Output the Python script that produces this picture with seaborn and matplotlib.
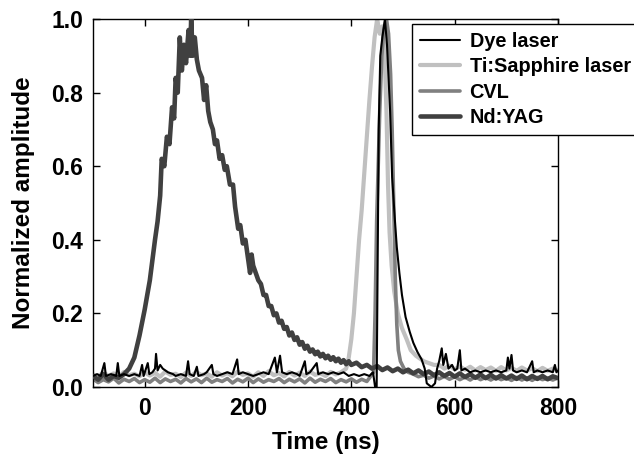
import matplotlib
matplotlib.use("Agg")
import matplotlib.pyplot as plt
import seaborn as sns

# traces (time in ns, normalized amplitude)
dye_t = [-100, -92, -85, -78, -75, -65, -55, -52, -49, -40, -30, -20, -10, -5, -2, 6, 9, 15, 20, 22,
         25, 30, 35, 40, 45, 55, 60, 70, 80, 84, 87, 95, 101, 104, 115, 120, 130, 133, 140, 150,
         160, 170, 179, 182, 190, 200, 210, 220, 230, 240, 252, 256, 262, 266, 275, 285, 295, 300, 310, 313,
         320, 333, 336, 345, 355, 365, 375, 385, 395, 405, 415, 425, 435, 442, 446, 449, 451, 453, 456, 460,
         465, 469, 475, 479, 484, 488, 493, 498, 505, 513, 520, 528, 536, 542, 546, 555, 562, 566, 570, 575,
         578, 583, 588, 595, 600, 605, 610, 613, 620, 630, 640, 650, 660, 670, 680, 690, 700, 703, 706, 710,
         713, 720, 730, 740, 750, 753, 760, 770, 780, 790, 794, 797, 800]
dye_y = [0.03, 0.035, 0.03, 0.065, 0.03, 0.035, 0.03, 0.065, 0.03, 0.035, 0.03, 0.035, 0.03, 0.06, 0.03, 0.065, 0.035, 0.04, 0.05, 0.09,
         0.045, 0.06, 0.05, 0.045, 0.04, 0.035, 0.03, 0.035, 0.03, 0.07, 0.035, 0.03, 0.055, 0.03, 0.035, 0.04, 0.06, 0.035, 0.03, 0.035,
         0.04, 0.035, 0.075, 0.035, 0.04, 0.035, 0.03, 0.035, 0.04, 0.035, 0.08, 0.04, 0.085, 0.04, 0.035, 0.04, 0.035, 0.03, 0.07, 0.035,
         0.04, 0.065, 0.035, 0.04, 0.035, 0.04, 0.035, 0.04, 0.03, 0.035, 0.03, 0.035, 0.03, 0.04, 0.0, 0.0, 0.35, 0.7, 0.9, 0.95,
         1.0, 0.93, 0.75, 0.57, 0.46, 0.38, 0.31, 0.25, 0.19, 0.15, 0.12, 0.095, 0.075, 0.05, 0.01, 0.0, 0.01, 0.05, 0.07, 0.105,
         0.06, 0.09, 0.05, 0.06, 0.045, 0.05, 0.10, 0.045, 0.05, 0.04, 0.045, 0.04, 0.045, 0.04, 0.045, 0.04, 0.045, 0.08, 0.05, 0.087,
         0.045, 0.04, 0.045, 0.04, 0.07, 0.04, 0.045, 0.04, 0.045, 0.04, 0.06, 0.04, 0.045]

ti_t = list(range(-100, 390, 10)) + [390, 395, 400, 405, 410, 415, 420, 425, 430, 435, 440, 445, 450, 455, 460,
        464, 468, 471, 474, 478, 483, 490, 498, 507, 515, 525, 540, 560] + list(range(570, 810, 10))
ti_y = [0.034, 0.028, 0.04, 0.03, 0.037, 0.027, 0.041, 0.032, 0.036, 0.029,
        0.04, 0.031, 0.038, 0.028, 0.042, 0.033, 0.036, 0.027, 0.039, 0.03,
        0.041, 0.032, 0.037, 0.028, 0.04, 0.031, 0.038, 0.029, 0.042, 0.033,
        0.037, 0.028, 0.04, 0.03, 0.043, 0.032, 0.038, 0.029, 0.041, 0.031,
        0.039, 0.03, 0.042, 0.033, 0.037, 0.03, 0.041, 0.034, 0.04,
        0.05, 0.08, 0.13, 0.2, 0.3, 0.4, 0.48, 0.58, 0.68, 0.78, 0.87, 0.95, 1.0, 0.96, 0.98,
        0.92, 0.75, 0.55, 0.42, 0.33, 0.26, 0.2, 0.16, 0.13, 0.10, 0.085, 0.07, 0.06,
        0.06, 0.05, 0.058, 0.048, 0.056, 0.047, 0.055, 0.045, 0.054, 0.046, 0.053, 0.044,
        0.054, 0.045, 0.052, 0.044, 0.053, 0.045, 0.051, 0.043, 0.052, 0.044, 0.05, 0.045]

cvl_t = list(range(-100, 440, 10)) + [443, 446, 449, 452, 455, 459, 463, 468, 472, 476, 479, 482,
         485, 488, 491, 495, 502, 510] + list(range(520, 810, 10))
cvl_y = [0.022, 0.012, 0.02, 0.014, 0.024, 0.011, 0.021, 0.015, 0.023, 0.012,
         0.02, 0.013, 0.024, 0.012, 0.022, 0.015, 0.021, 0.011, 0.023, 0.014,
         0.022, 0.012, 0.024, 0.013, 0.02, 0.015, 0.023, 0.011, 0.021, 0.014,
         0.024, 0.012, 0.022, 0.013, 0.02, 0.015, 0.023, 0.012, 0.021, 0.014,
         0.022, 0.011, 0.024, 0.013, 0.021, 0.015, 0.023, 0.012, 0.02, 0.014,
         0.022, 0.013, 0.021, 0.015,
         0.04, 0.2, 0.45, 0.6, 0.75, 0.9, 0.97, 1.0, 0.96, 0.85, 0.7, 0.5,
         0.3, 0.17, 0.1, 0.07, 0.05, 0.04,
         0.035, 0.028, 0.032, 0.024, 0.03, 0.022, 0.029, 0.021, 0.028, 0.02,
         0.027, 0.019, 0.028, 0.02, 0.026, 0.019, 0.027, 0.02, 0.025, 0.018,
         0.026, 0.019, 0.025, 0.018, 0.026, 0.02, 0.024, 0.019, 0.025]

nd_t = [-100, -90, -80, -70, -60, -50, -40, -30, -20, -10, 0, 10, 20, 25, 30, 33, 38, 43, 48, 53,
        57, 60, 64, 68, 72, 76, 80, 85, 88, 90, 93, 97, 101, 105, 111, 115, 119, 123, 127, 132,
        136, 140, 145, 150, 155, 159, 165, 171, 175, 181, 185, 190, 195, 200, 204, 207] + list(range(210, 400, 5)) \
       + list(range(400, 810, 10))
nd_y = [0.03, 0.02, 0.035, 0.02, 0.03, 0.025, 0.035, 0.05, 0.08, 0.14, 0.21, 0.29, 0.40, 0.45, 0.52, 0.62, 0.60, 0.68, 0.66, 0.76,
        0.73, 0.84, 0.80, 0.95, 0.86, 0.93, 0.88, 0.97, 0.90, 1.0, 0.90, 0.95, 0.89, 0.86, 0.84, 0.78, 0.82, 0.75, 0.72, 0.70,
        0.66, 0.67, 0.62, 0.63, 0.59, 0.60, 0.55, 0.55, 0.49, 0.43, 0.44, 0.39, 0.40, 0.35, 0.31, 0.36,
        0.33, 0.31, 0.29, 0.28, 0.25, 0.25, 0.22, 0.22, 0.195, 0.20, 0.175, 0.18, 0.158, 0.163, 0.14, 0.148,
        0.128, 0.135, 0.115, 0.122, 0.104, 0.112, 0.096, 0.102, 0.089, 0.096, 0.083, 0.09, 0.078, 0.085,
        0.074, 0.081, 0.07, 0.077, 0.066, 0.073, 0.062, 0.07,
        0.06, 0.066, 0.054, 0.06, 0.05, 0.057, 0.046, 0.053, 0.043, 0.05, 0.04, 0.047, 0.037, 0.045,
        0.035, 0.042, 0.032, 0.04, 0.03, 0.038, 0.028, 0.037, 0.027, 0.035, 0.025, 0.034, 0.024, 0.033,
        0.023, 0.032, 0.023, 0.031, 0.022, 0.031, 0.021, 0.03, 0.022, 0.03, 0.021, 0.029, 0.024]

labels = ["Dye laser", "Ti:Sapphire laser", "CVL", "Nd:YAG"]
x_ticks = [0, 200, 400, 600, 800]
y_ticks = [0.0, 0.2, 0.4, 0.6, 0.8, 1.0]

sns.set_theme(style="ticks")
plt.rcParams['font.family'] = ['Liberation Sans', 'DejaVu Sans']
plt.rcParams['font.weight'] = 'bold'
plt.rcParams['axes.labelweight'] = 'bold'
plt.rcParams['text.color'] = 'black'
plt.rcParams['axes.labelcolor'] = 'black'

fig = plt.figure(figsize=(6.34, 4.58), dpi=100)
ax = fig.add_axes([93 / 634, 71 / 458, 465 / 634, 368 / 458])

series = [
    (dye_t, dye_y, "#000000", 1.5, 4),
    (ti_t, ti_y, "#c0c0c0", 3.0, 1),
    (cvl_t, cvl_y, "#808080", 2.6, 2),
    (nd_t, nd_y, "#404040", 3.3, 3),
]
for (t, y, c, lw, z), lab in zip(series, labels):
    sns.lineplot(x=t, y=y, ax=ax, color=c, lw=lw, label=lab,
                 estimator=None, sort=False, zorder=z)

ax.set_xlim(-100, 800)
ax.set_ylim(0, 1.0)
ax.set_xticks(x_ticks)
ax.set_yticks(y_ticks)
ax.set_yticklabels([f"{v:.1f}" for v in y_ticks])
ax.tick_params(direction='in', length=5, width=1, labelsize=16.5, pad=7,
               top=True, right=True, colors='black')
for s in ax.spines.values():
    s.set_color('black')
    s.set_linewidth(1.0)

ax.set_xlabel("Time (ns)", fontsize=17.5, labelpad=8, color='black')
ax.set_ylabel("Normalized amplitude", fontsize=17.5, labelpad=12, color='black')

leg = ax.legend(loc='upper left', bbox_to_anchor=(412 / 634, 1 - 24 / 458),
                bbox_transform=fig.transFigure, borderaxespad=0,
                fontsize=14.3, handlelength=2.0, handletextpad=0.5,
                labelspacing=0.32, borderpad=0.4, fancybox=False,
                framealpha=1, edgecolor='black')
leg.get_frame().set_linewidth(1.0)
for txt in leg.get_texts():
    txt.set_color('black')
leg.set_zorder(10)

fig.savefig("out.png", dpi=100)
